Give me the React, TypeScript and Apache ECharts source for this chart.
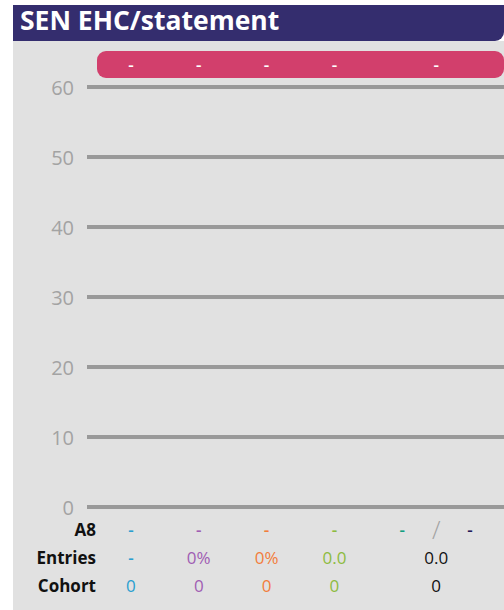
import React, { useEffect, useRef } from "react";
import * as echarts from "echarts";

// ---- data ----
const titleText = "SEN EHC/statement";
const chartCategories = ["c1", "c2", "c3", "c4", "c5", "c6"];
const chartValues: (number | null)[] = [null, null, null, null, null, null];
const yMin = 0;
const yMax = 60;
const yStep = 10;

const headerLabels = ["-", "-", "-", "-", "-"];
const rowLabels = ["A8", "Entries", "Cohort"];
const a8Labels = ["-", "-", "-", "-", "-", "/", "-"];
const entriesLabels = ["-", "0%", "0%", "0.0", "0.0"];
const cohortLabels = ["0", "0", "0", "0", "0"];

// ---- styles / layout ----
const BLUE = "#2a9fd0";
const PURPLE = "#a05db3";
const ORANGE = "#f27d3c";
const GREEN = "#8dbb40";
const TEAL = "#129e80";
const NAVY = "#231a58";
const BLACK = "#111111";
const SLASH = "#a3a3a3";

const headerSlots = [0, 1, 2, 3, 4.5];
const a8Slots = [0, 1, 2, 3, 4, 4.5, 5];
const wideSlots = [0, 1, 2, 3, 4.5];
const a8Colors = [BLUE, PURPLE, ORANGE, GREEN, TEAL, SLASH, NAVY];
const rowColors = [BLUE, PURPLE, ORANGE, GREEN, BLACK];

const FONT = "'Open Sans', 'Noto Sans', sans-serif";

function cells(labels: string[], slots: number[], row: number, colors: string[]) {
  return labels.map((t, i) => ({
    value: [slots[i], row],
    text: t,
    label: {
      color: colors[i],
      fontSize: t === "/" ? 25 : 17,
      fontWeight: t === "/" ? 300 : t === "-" ? 600 : 400,
    },
  }));
}

const cellLabel = {
  show: true,
  position: "inside",
  fontSize: 17,
  fontFamily: FONT,
  textBorderWidth: 0,
  formatter: (p: any) => p.data.text,
};

export default function App() {
  const ref = useRef<HTMLDivElement>(null);
  useEffect(() => {
    if (!ref.current) return;
    const chart = echarts.init(ref.current, null, { renderer: "svg" });
    const tableData = [
      ...cells(a8Labels, a8Slots, 0, a8Colors),
      ...cells(entriesLabels, wideSlots, 1, rowColors),
      ...cells(cohortLabels, wideSlots, 2, rowColors),
    ];
    const headerData = cells(headerLabels, headerSlots, 0, headerLabels.map(() => "#ffffff"));
    chart.setOption({
      animation: false,
      backgroundColor: "#ffffff",
      graphic: [
        { type: "rect", z: -10, shape: { x: 13, y: 41, width: 491, height: 569 }, style: { fill: "#e1e1e1" } },
        { type: "rect", z: -10, shape: { x: 13, y: 5, width: 491, height: 36, r: [0, 0, 9, 0] }, style: { fill: "#342d6e" } },
        { type: "rect", z: -5, shape: { x: 97, y: 51, width: 407, height: 27, r: 9 }, style: { fill: "#d23f6c" } },
      ],
      title: {
        text: titleText,
        left: 15,
        top: 1,
        textStyle: { color: "#ffffff", fontSize: 26.5, fontWeight: "bold", fontFamily: FONT },
      },
      grid: [
        { left: 87, right: 0, top: 87, height: 420 },
        { left: 97, right: -1, top: 51, height: 27 },
        { left: 97, right: -1, top: 515, height: 84 },
      ],
      xAxis: [
        { type: "category", gridIndex: 0, data: chartCategories, show: false },
        { type: "value", gridIndex: 1, min: -0.5, max: 5.5, show: false },
        { type: "value", gridIndex: 2, min: -0.5, max: 5.5, show: false },
      ],
      yAxis: [
        {
          type: "value",
          gridIndex: 0,
          min: yMin,
          max: yMax,
          interval: yStep,
          axisLine: { show: false },
          axisTick: { show: false },
          axisLabel: { color: "#a3a3a3", fontSize: 20, fontFamily: FONT, margin: 13 },
          splitLine: { show: true, lineStyle: { color: "#999999", width: 4 } },
        },
        { type: "value", gridIndex: 1, min: -0.5, max: 0.5, show: false },
        {
          type: "category",
          gridIndex: 2,
          data: rowLabels,
          inverse: true,
          axisLine: { show: false },
          axisTick: { show: false },
          splitLine: { show: false },
          axisLabel: { color: BLACK, fontSize: 17, fontWeight: "bold", fontFamily: FONT, margin: 1 },
        },
      ],
      series: [
        { type: "bar", xAxisIndex: 0, yAxisIndex: 0, data: chartValues },
        {
          type: "scatter",
          xAxisIndex: 1,
          yAxisIndex: 1,
          symbolSize: 2,
          itemStyle: { color: "rgba(0,0,0,0)", opacity: 1 },
          label: cellLabel,
          data: headerData,
          z: 5,
        },
        {
          type: "scatter",
          xAxisIndex: 2,
          yAxisIndex: 2,
          symbolSize: 2,
          itemStyle: { color: "rgba(0,0,0,0)", opacity: 1 },
          label: cellLabel,
          data: tableData,
          z: 5,
        },
      ],
    });
    return () => chart.dispose();
  }, []);
  return <div ref={ref} style={{ position: "absolute", left: 0, top: 0, width: 504, height: 610 }} />;
}
